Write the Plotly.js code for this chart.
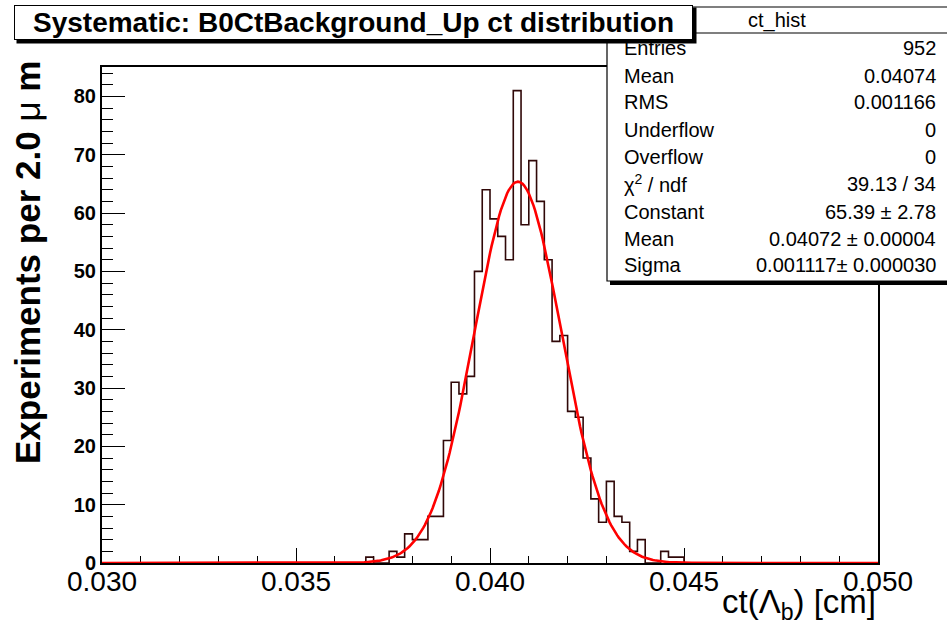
<!DOCTYPE html>
<html>
<head>
<meta charset="utf-8">
<script src="https://cdn.plot.ly/plotly-3.0.1.min.js"></script>
<style>html,body{margin:0;padding:0;background:#fff;}#chart{width:947px;height:623px;}</style>
</head>
<body>
<div id="chart"></div>
<script>
// Histogram binning (ct in cm), 2.0 um bins
const binLow = 0.030;
const binWidth = 0.0002;
const counts = [
  0,0,0,0,0,0,0,0,0,0,
  0,0,0,0,0,0,0,0,0,0,
  0,0,0,0,0,0,0,0,0,0,
  0,0,0,0,1,0,0,2,1,5,
  4,4,8,8,21,31,29,32,50,64,
  59,56,52,81,58,69,62,52,38,39,
  26,25,18,11,7,14,8,7,2,4,
  0,0,2,1,1,0,0,0,0,0,
  0,0,0,0,0,0,0,0,0,0,
  0,0,0,0,0,0,0,0,0,0
];
// Gaussian fit parameters (from stats box)
const fitConstant = 65.39;
const fitMean = 0.04072;
const fitSigma = 0.001117;
const xRange = [0.030, 0.050];

// Stats box text
const statLabels = ["Entries","Mean","RMS","Underflow","Overflow","χ<sup>2</sup> / ndf","Constant","Mean","Sigma"];
const statValues = ["952","0.04074","0.001166","0","0","39.13 / 34","65.39 ± 2.78","0.04072 ± 0.00004","0.001117± 0.000030"];

const FONT = '"Liberation Sans", Arial, sans-serif';

// Build step outline from bin edges
const edges = [], stepY = [];
for (let i = 0; i < counts.length; i++) { edges.push(binLow + i * binWidth); stepY.push(counts[i]); }
edges.push(binLow + counts.length * binWidth); stepY.push(counts[counts.length - 1]);

// Fit curve evaluated from fit parameters
const fx = [], fy = [];
const nF = 500;
for (let i = 0; i <= nF; i++) {
  const x = xRange[0] + (xRange[1] - xRange[0]) * i / nF;
  fx.push(x);
  fy.push(fitConstant * Math.exp(-0.5 * Math.pow((x - fitMean) / fitSigma, 2)));
}

// pixel -> paper helpers (plot area 102..878 x, 67..563 y)
const L = 102, R = 878, T = 67, B = 563;
const px = p => (p - L) / (R - L);
const py = p => (B - p) / (B - T);

const annotations = [];
const rowY = [48, 76, 102, 130, 157, 184, 212, 239, 265];
statLabels.forEach((t, i) => {
  annotations.push({xref:'paper', yref:'paper', x:px(622), y:py(rowY[i]), xanchor:'left', yanchor:'middle',
    text:t, showarrow:false, font:{family:FONT, size:20, color:'#000'}});
  annotations.push({xref:'paper', yref:'paper', x:px(938), y:py(rowY[i]), xanchor:'right', yanchor:'middle',
    text:statValues[i], showarrow:false, font:{family:FONT, size:20, color:'#000'}});
});
annotations.push({xref:'paper', yref:'paper', x:px(777), y:py(20), xanchor:'center', yanchor:'middle',
  text:'ct_hist', showarrow:false, font:{family:FONT, size:20, color:'#000'}});
// title shadow + title box
annotations.push({xref:'paper', yref:'paper', x:px(356.5), y:py(25.5), xanchor:'center', yanchor:'middle',
  text:'.', showarrow:false, width:679, height:35, borderpad:0, bgcolor:'#000', font:{size:10, color:'#000'}});
annotations.push({xref:'paper', yref:'paper', x:px(353.5), y:py(22.5), xanchor:'center', yanchor:'middle',
  text:'<b>Systematic: B0CtBackground_Up ct distribution</b>', showarrow:false, width:677, height:33,
  borderpad:0, borderwidth:1, bordercolor:'#000', bgcolor:'#fff',
  font:{family:FONT, size:28, color:'#000'}});
// axis titles
annotations.push({xref:'paper', yref:'paper', x:px(878), y:py(604), xanchor:'right', yanchor:'middle',
  text:'ct(Λ<sub>b</sub>) [cm]', showarrow:false, font:{family:FONT, size:33, color:'#000'}});
annotations.push({xref:'paper', yref:'paper', x:px(27), y:py(263), xanchor:'center', yanchor:'middle', textangle:-90,
  text:'<b>Experiments per 2.0 </b>μ<b> m</b>', showarrow:false, font:{family:FONT, size:35, color:'#000'}});

const shapes = [
  // stats box shadow
  {type:'rect', xref:'paper', yref:'paper', x0:px(610), x1:px(960), y0:py(285), y1:py(279), fillcolor:'#000', line:{width:0}, layer:'above'},
  // stats box
  {type:'rect', xref:'paper', yref:'paper', x0:px(607), x1:px(960), y0:py(281), y1:py(7), fillcolor:'#fff', line:{color:'#000', width:1.2}, layer:'above'},
  {type:'line', xref:'paper', yref:'paper', x0:px(607), x1:px(960), y0:py(33), y1:py(33), line:{color:'#000', width:1.2}, layer:'above'}
];

const traces = [
  {x:edges, y:stepY, type:'scatter', mode:'lines', line:{shape:'hv', color:'#300808', width:1.6}, hoverinfo:'skip'},
  {x:fx, y:fy, type:'scatter', mode:'lines', line:{color:'#ff0000', width:2.6}, hoverinfo:'skip'}
];

const layout = {
  width:947, height:623,
  margin:{l:L, r:947-R, t:T, b:623-B, pad:0},
  paper_bgcolor:'#fff', plot_bgcolor:'#fff',
  showlegend:false,
  font:{family:FONT, color:'#000'},
  xaxis:{range:xRange, showgrid:false, zeroline:false, showline:true, linecolor:'#000', linewidth:2, mirror:true,
    layer:'below traces',
    ticks:'inside', ticklen:15, tickwidth:1, tickcolor:'#000', dtick:0.005, tick0:0.030, tickformat:'.3f',
    ticklabelstandoff:-8,
    tickfont:{family:FONT, size:28, color:'#000'},
    minor:{dtick:0.001, ticks:'inside', ticklen:7, tickwidth:1, tickcolor:'#000', showgrid:false}},
  yaxis:{range:[0, 85.05], showgrid:false, zeroline:false, showline:true, linecolor:'#000', linewidth:2, mirror:true,
    layer:'below traces',
    ticks:'inside', ticklen:23, tickwidth:1, tickcolor:'#000', dtick:10, tick0:0, tickformat:'d',
    tickfont:{family:FONT, size:20, color:'#000', weight:'bold'},
    minor:{dtick:2, ticks:'inside', ticklen:11, tickwidth:1, tickcolor:'#000', showgrid:false}},
  annotations:annotations,
  shapes:shapes
};

Plotly.newPlot('chart', traces, layout, {staticPlot:true, displayModeBar:false});
</script>
</body>
</html>
